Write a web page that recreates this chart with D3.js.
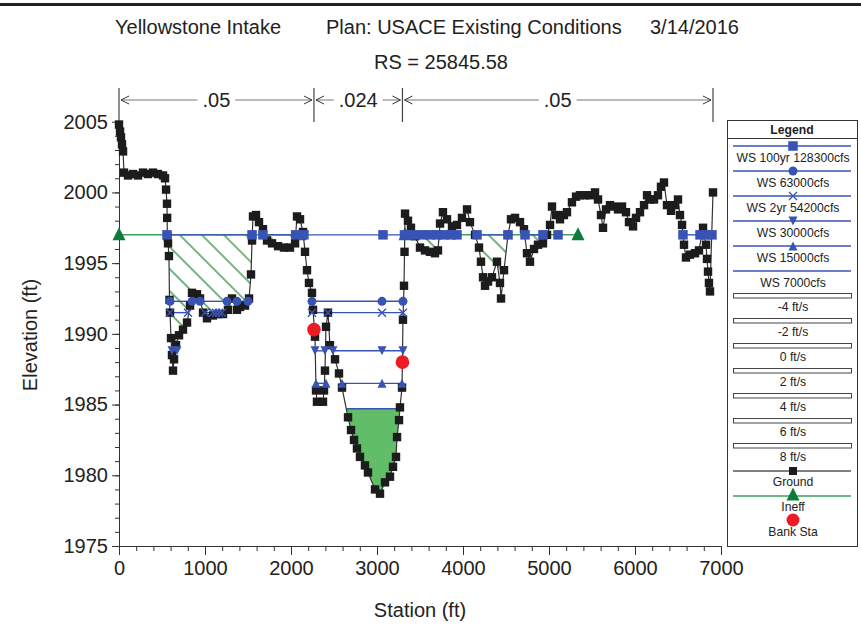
<!DOCTYPE html>
<html><head><meta charset="utf-8">
<script src="https://cdn.jsdelivr.net/npm/d3@7"></script>
<style>body{margin:0;background:#fff}svg{display:block}text{font-family:"Liberation Sans",Arial,sans-serif;fill:#222}</style>
</head><body><svg id="c" width="861" height="626"></svg>
<script>
// ---------------- DATA ----------------
const groundSta = [0,12,23,35,47,58,105,163,221,279,337,395,453,512,535,547,558,560,562,570,581,587,593,605,616,628,640,663,698,744,791,826,849,907,942,977,1023,1093,1151,1209,1267,1314,1372,1407,1465,1512,1535,1547,1558,1593,1628,1674,1721,1779,1849,1919,1988,2047,2070,2105,2140,2163,2186,2209,2244,2256,2279,2291,2302,2372,2384,2395,2407,2430,2453,2512,2558,2593,2663,2698,2733,2767,2802,2860,2895,2977,3035,3093,3151,3186,3221,3233,3256,3267,3291,3302,3314,3320,3326,3360,3395,3442,3500,3558,3616,3674,3709,3733,3767,3814,3872,3930,3988,4047,4081,4140,4186,4209,4233,4256,4291,4337,4395,4430,4442,4477,4523,4558,4605,4663,4709,4744,4779,4826,4872,4930,4977,5012,5035,5081,5128,5174,5209,5267,5314,5360,5419,5477,5535,5570,5605,5628,5663,5709,5756,5802,5849,5895,5930,5977,6012,6058,6105,6140,6174,6221,6267,6302,6337,6372,6419,6465,6500,6523,6547,6570,6593,6640,6698,6744,6791,6826,6837,6849,6860,6872,6907];
const groundElev = [2004.8,2004.3,2003.9,2003.4,2002.9,2001.4,2001.2,2001.3,2001.2,2001.4,2001.3,2001.4,2001.3,2001.2,2001.0,2000.2,1999.2,1998.2,1996.9,1996.4,1995.5,1992.4,1991.5,1989.7,1988.5,1987.4,1988.2,1989.2,1989.9,1990.3,1990.8,1992.0,1992.9,1992.8,1992.5,1991.5,1991.1,1991.3,1991.4,1991.4,1991.7,1992.5,1991.7,1991.9,1992.0,1992.5,1994.2,1996.6,1998.3,1998.4,1997.9,1997.4,1996.6,1996.4,1996.2,1996.1,1996.1,1996.4,1998.3,1998.1,1997.2,1995.8,1994.5,1993.6,1992.9,1991.7,1989.8,1986.0,1985.2,1985.2,1986.0,1987.4,1990.5,1991.5,1989.2,1988.2,1987.2,1986.2,1984.1,1983.2,1982.5,1981.9,1981.3,1980.7,1980.2,1979.0,1978.7,1979.5,1979.9,1980.6,1981.3,1982.7,1983.9,1984.8,1986.2,1991.0,1993.4,1995.8,1998.5,1998.0,1997.5,1996.9,1996.1,1995.9,1995.8,1995.7,1995.9,1997.8,1998.6,1998.1,1997.6,1997.7,1998.2,1998.8,1997.9,1997.0,1996.1,1995.1,1994.0,1993.4,1993.7,1994.0,1995.1,1993.6,1992.5,1994.5,1997.0,1998.1,1998.2,1997.9,1997.4,1995.7,1995.1,1996.0,1996.3,1996.4,1997.0,1997.7,1999.0,1998.4,1998.1,1998.4,1998.6,1999.3,1999.7,1999.8,1999.8,1999.8,2000.0,1999.5,1998.4,1997.5,1998.8,1999.1,1999.0,1998.8,1999.0,1998.6,1997.9,1997.6,1998.2,1998.6,1999.1,1999.8,1999.5,1999.5,1999.8,2000.4,2000.7,1999.1,1998.7,1999.1,1999.5,1998.4,1997.7,1996.3,1995.4,1995.6,1995.7,1995.9,1997.5,1996.3,1995.3,1994.4,1993.6,1993.0,2000.0];

const wsNames = ["WS 100yr 128300cfs","WS 63000cfs","WS 2yr 54200cfs","WS 30000cfs","WS 15000cfs","WS 7000cfs"];
const wsElev = [1997.0,1992.3,1991.5,1988.8,1986.5,1984.7];
const wsSymbols = ["square","circle","x","down","up","none"];
const ws100Markers = [558,1547,1674,2055,2150,3070,3320,3384,3442,3535,3616,3698,3779,3860,3930,4163,4523,4721,4930,5105,6558,6756,6826,6895];
const ws63Markers = [593,849,942,1256,1372,1500,2244,3058,3302];
const ws2yrMarkers = [593,802,1000,1093,1128,1163,1198,2244,2430,3058,3302];
const ws30Markers = [616,674,2279,2395,2488,3058,3302];
const ws15Markers = [2291,2407,2593,3058,3291];
const ws7Markers = [];

const ineffLeft = [0,2105];
const ineffRight = [3326,5337];
const ineffElev = 1997.0;
const bankSta = [2267,3296];
const bankElev = [1990.3,1988.0];
const manningSta = [0,2267,3296,6907];
const manningN = [".05",".024",".05"];
const velocityLabels = ["-4 ft/s","-2 ft/s","0 ft/s","2 ft/s","4 ft/s","6 ft/s","8 ft/s"];
const xTicks = [0,1000,2000,3000,4000,5000,6000,7000];
const yTicks = [1975,1980,1985,1990,1995,2000,2005];

// ---------------- STYLE ----------------
const BLUE="#3953b5", GROUND="#1c1c1c", GREEN_TRI="#0b7d3b", GREEN_LINE="#3f9f5f", HATCH="#2f8a45", FILL="#62bd69", RED="#ec1c24";

const svg=d3.select("#c");
const x=d3.scaleLinear().domain([0,7000]).range([119,721]);
const y=d3.scaleLinear().domain([1975,2005]).range([546,121.7]);
const ground=groundSta.map((s,i)=>({s,e:groundElev[i]}));

function wetSegs(L,lo,hi){
  const pts=ground.filter(p=>p.s>=lo&&p.s<=hi);
  const segs=[]; let cur=pts[0].e<L?[pts[0]]:null;
  for(let i=0;i<pts.length-1;i++){
    const p=pts[i],q=pts[i+1];
    const pw=p.e<L,qw=q.e<L;
    if(pw!==qw){
      const t=(L-p.e)/(q.e-p.e);
      const c={s:p.s+t*(q.s-p.s),e:L};
      if(pw){cur.push(c);segs.push(cur);cur=null;} else cur=[c];
    }
    if(qw) cur.push(q);
  }
  if(cur) segs.push(cur);
  return segs;
}
const polyLine=d3.line().x(d=>x(d.s)).y(d=>y(d.e));

function marker(g,type,cx,cy,sz,color){
  if(type==="square") g.append("rect").attr("x",cx-sz/2).attr("y",cy-sz/2).attr("width",sz).attr("height",sz).attr("fill",color);
  else if(type==="circle") g.append("circle").attr("cx",cx).attr("cy",cy).attr("r",sz/2).attr("fill",color);
  else if(type==="x") g.append("path").attr("d",`M${cx-sz/2},${cy-sz/2}L${cx+sz/2},${cy+sz/2}M${cx-sz/2},${cy+sz/2}L${cx+sz/2},${cy-sz/2}`).attr("stroke",color).attr("stroke-width",1.4).attr("fill","none");
  else if(type==="down") g.append("path").attr("d",`M${cx-sz/2},${cy-sz/2}L${cx+sz/2},${cy-sz/2}L${cx},${cy+sz/2}Z`).attr("fill",color);
  else if(type==="up") g.append("path").attr("d",`M${cx-sz/2},${cy+sz/2}L${cx+sz/2},${cy+sz/2}L${cx},${cy-sz/2}Z`).attr("fill",color);
}

// top rule
svg.append("rect").attr("x",0).attr("y",3).attr("width",861).attr("height",3).attr("fill","#222");

// titles
const t=svg.append("g").attr("font-size",20);
t.append("text").attr("x",115).attr("y",34).text("Yellowstone Intake");
t.append("text").attr("x",326).attr("y",34).text("Plan: USACE Existing Conditions");
t.append("text").attr("x",650).attr("y",34).text("3/14/2016");
t.append("text").attr("x",441).attr("y",69).attr("text-anchor","middle").text("RS = 25845.58");

// defs
const defs=svg.append("defs");
defs.append("pattern").attr("id","hatch").attr("patternUnits","userSpaceOnUse").attr("width",15.6).attr("height",15.6)
  .attr("patternTransform","rotate(-45)")
  .append("line").attr("x1",7.8).attr("y1",0).attr("x2",7.8).attr("y2",15.6).attr("stroke",HATCH).attr("stroke-width",1.3);

// hatch areas
[ineffLeft,ineffRight].forEach(r=>{
  wetSegs(ineffElev,r[0],r[1]).forEach(seg=>{
    svg.append("path").attr("d",polyLine(seg)+"Z").attr("fill","url(#hatch)");
  });
});
// green fill below lowest WS
wetSegs(wsElev[5],2400,3400).forEach(seg=>{
  svg.append("path").attr("d",polyLine(seg)+"Z").attr("fill",FILL);
});

// axes
const gy=svg.append("g").attr("transform","translate(119,0)");
gy.call(d3.axisLeft(y).tickValues(d3.range(1975,2006,1)).tickSize(4).tickFormat("")).select(".domain").remove();
const gy2=svg.append("g").attr("transform","translate(119,0)");
gy2.call(d3.axisLeft(y).tickValues(yTicks).tickSize(7).tickSizeOuter(0).tickPadding(4).tickFormat(d3.format("d")));
gy2.selectAll("text").attr("font-size",20).attr("font-family","Liberation Sans, Arial, sans-serif").attr("fill","#222");
const gx=svg.append("g").attr("transform","translate(0,546)");
gx.call(d3.axisBottom(x).tickValues(d3.range(0,7001,200)).tickSize(5).tickFormat("")).select(".domain").remove();
const gx2=svg.append("g").attr("transform","translate(0,546)");
gx2.call(d3.axisBottom(x).tickValues(xTicks).tickSize(9).tickSizeOuter(0).tickPadding(6).tickFormat(d3.format("d")));
gx2.selectAll("text").attr("font-size",20).attr("font-family","Liberation Sans, Arial, sans-serif").attr("fill","#222");
svg.selectAll(".tick line,.domain").attr("stroke","#333");

svg.append("text").attr("transform","translate(37,335) rotate(-90)").attr("text-anchor","middle").attr("font-size",20).text("Elevation (ft)");
svg.append("text").attr("x",420).attr("y",617).attr("text-anchor","middle").attr("font-size",20).text("Station (ft)");

// Manning n markers
const mg=svg.append("g");
manningSta.forEach(s=>{
  mg.append("line").attr("x1",x(s)).attr("x2",x(s)).attr("y1",88).attr("y2",122).attr("stroke","#444").attr("stroke-width",1.2);
});
manningN.forEach((n,i)=>{
  const a=x(manningSta[i]),b=x(manningSta[i+1]),m=(a+b)/2;
  const tx=mg.append("text").attr("x",m).attr("y",107).attr("text-anchor","middle").attr("font-size",20).text(n);
  const w=tx.node().getComputedTextLength();
  const ly=100;
  mg.append("line").attr("x1",a+2).attr("x2",m-w/2-5).attr("y1",ly).attr("y2",ly).attr("stroke","#777");
  mg.append("line").attr("x1",m+w/2+5).attr("x2",b-2).attr("y1",ly).attr("y2",ly).attr("stroke","#777");
  mg.append("path").attr("d",`M${a+10},${ly-4}L${a+2},${ly}L${a+10},${ly+4}`).attr("stroke","#333").attr("fill","none");
  mg.append("path").attr("d",`M${b-10},${ly-4}L${b-2},${ly}L${b-10},${ly+4}`).attr("stroke","#333").attr("fill","none");
});

// ineff lines
[ineffLeft,ineffRight].forEach(r=>{
  svg.append("line").attr("x1",x(r[0])).attr("x2",x(r[1])).attr("y1",y(ineffElev)).attr("y2",y(ineffElev)).attr("stroke",GREEN_LINE).attr("stroke-width",1.5);
});
// WS lines
wsElev.forEach((L,i)=>{
  wetSegs(L,0,7000).forEach(seg=>{
    svg.append("line").attr("x1",x(seg[0].s)).attr("x2",x(seg[seg.length-1].s)).attr("y1",y(L)).attr("y2",y(L)).attr("stroke",BLUE).attr("stroke-width",1.4);
  });
});
// ineff triangles
const ig=svg.append("g");
[ineffLeft[0],ineffLeft[1],ineffRight[0],ineffRight[1]].forEach(s=>marker(ig,"up",x(s),y(ineffElev)-1,13,GREEN_TRI));

// ground
svg.append("path").attr("d",polyLine(ground)).attr("fill","none").attr("stroke","#333").attr("stroke-width",1.2);
svg.append("g").selectAll("rect").data(ground).join("rect")
  .attr("x",d=>x(d.s)-4.2).attr("y",d=>y(d.e)-4.2).attr("width",8.4).attr("height",8.4).attr("fill",GROUND);

// WS markers
const wm=svg.append("g");
const allMarkers=[ws100Markers,ws63Markers,ws2yrMarkers,ws30Markers,ws15Markers,ws7Markers];
const mSize={square:9.5,circle:9,x:8,down:9,up:9};
allMarkers.forEach((arr,i)=>arr.forEach(s=>marker(wm,wsSymbols[i],x(s),y(wsElev[i]),mSize[wsSymbols[i]],BLUE)));

// bank stations
bankSta.forEach((s,i)=>svg.append("circle").attr("cx",x(s)).attr("cy",y(bankElev[i])).attr("r",6.8).attr("fill",RED));

// ---------------- LEGEND ----------------
const lg=svg.append("g").attr("font-size",12.2);
lg.append("rect").attr("x",727.5).attr("y",120.5).attr("width",130).attr("height",426).attr("fill","#fff").attr("stroke","#333");
lg.append("line").attr("x1",727.5).attr("x2",857.5).attr("y1",138.5).attr("y2",138.5).attr("stroke","#333");
lg.append("text").attr("x",792).attr("y",133.5).attr("text-anchor","middle").attr("font-weight","bold").text("Legend");
const cx=793, lx1=733, lx2=851;
wsNames.forEach((n,i)=>{
  const ly=146+25*i;
  lg.append("line").attr("x1",lx1).attr("x2",lx2).attr("y1",ly).attr("y2",ly).attr("stroke",BLUE).attr("stroke-width",1.3);
  marker(lg,wsSymbols[i],cx,ly,mSize[wsSymbols[i]]||0,BLUE);
  lg.append("text").attr("x",cx).attr("y",ly+16).attr("text-anchor","middle").text(n);
});
velocityLabels.forEach((n,i)=>{
  const ry=293+25*i;
  lg.append("rect").attr("x",lx1+0.5).attr("y",ry+0.5).attr("width",lx2-lx1).attr("height",4.5).attr("fill","#fff").attr("stroke","#444");
  lg.append("text").attr("x",cx).attr("y",ry+18).attr("text-anchor","middle").text(n);
});
// Ground
lg.append("line").attr("x1",lx1).attr("x2",lx2).attr("y1",471).attr("y2",471).attr("stroke","#555").attr("stroke-width",1.3);
marker(lg,"square",cx,471,8,GROUND);
lg.append("text").attr("x",cx).attr("y",486).attr("text-anchor","middle").text("Ground");
// Ineff
lg.append("line").attr("x1",lx1).attr("x2",lx2).attr("y1",496).attr("y2",496).attr("stroke",GREEN_LINE).attr("stroke-width",1.5);
marker(lg,"up",cx,494,13,GREEN_TRI);
lg.append("text").attr("x",cx).attr("y",511).attr("text-anchor","middle").text("Ineff");
// Bank Sta
lg.append("circle").attr("cx",cx).attr("cy",520).attr("r",6.5).attr("fill",RED);
lg.append("text").attr("x",cx).attr("y",536).attr("text-anchor","middle").text("Bank Sta");
</script></body></html>
